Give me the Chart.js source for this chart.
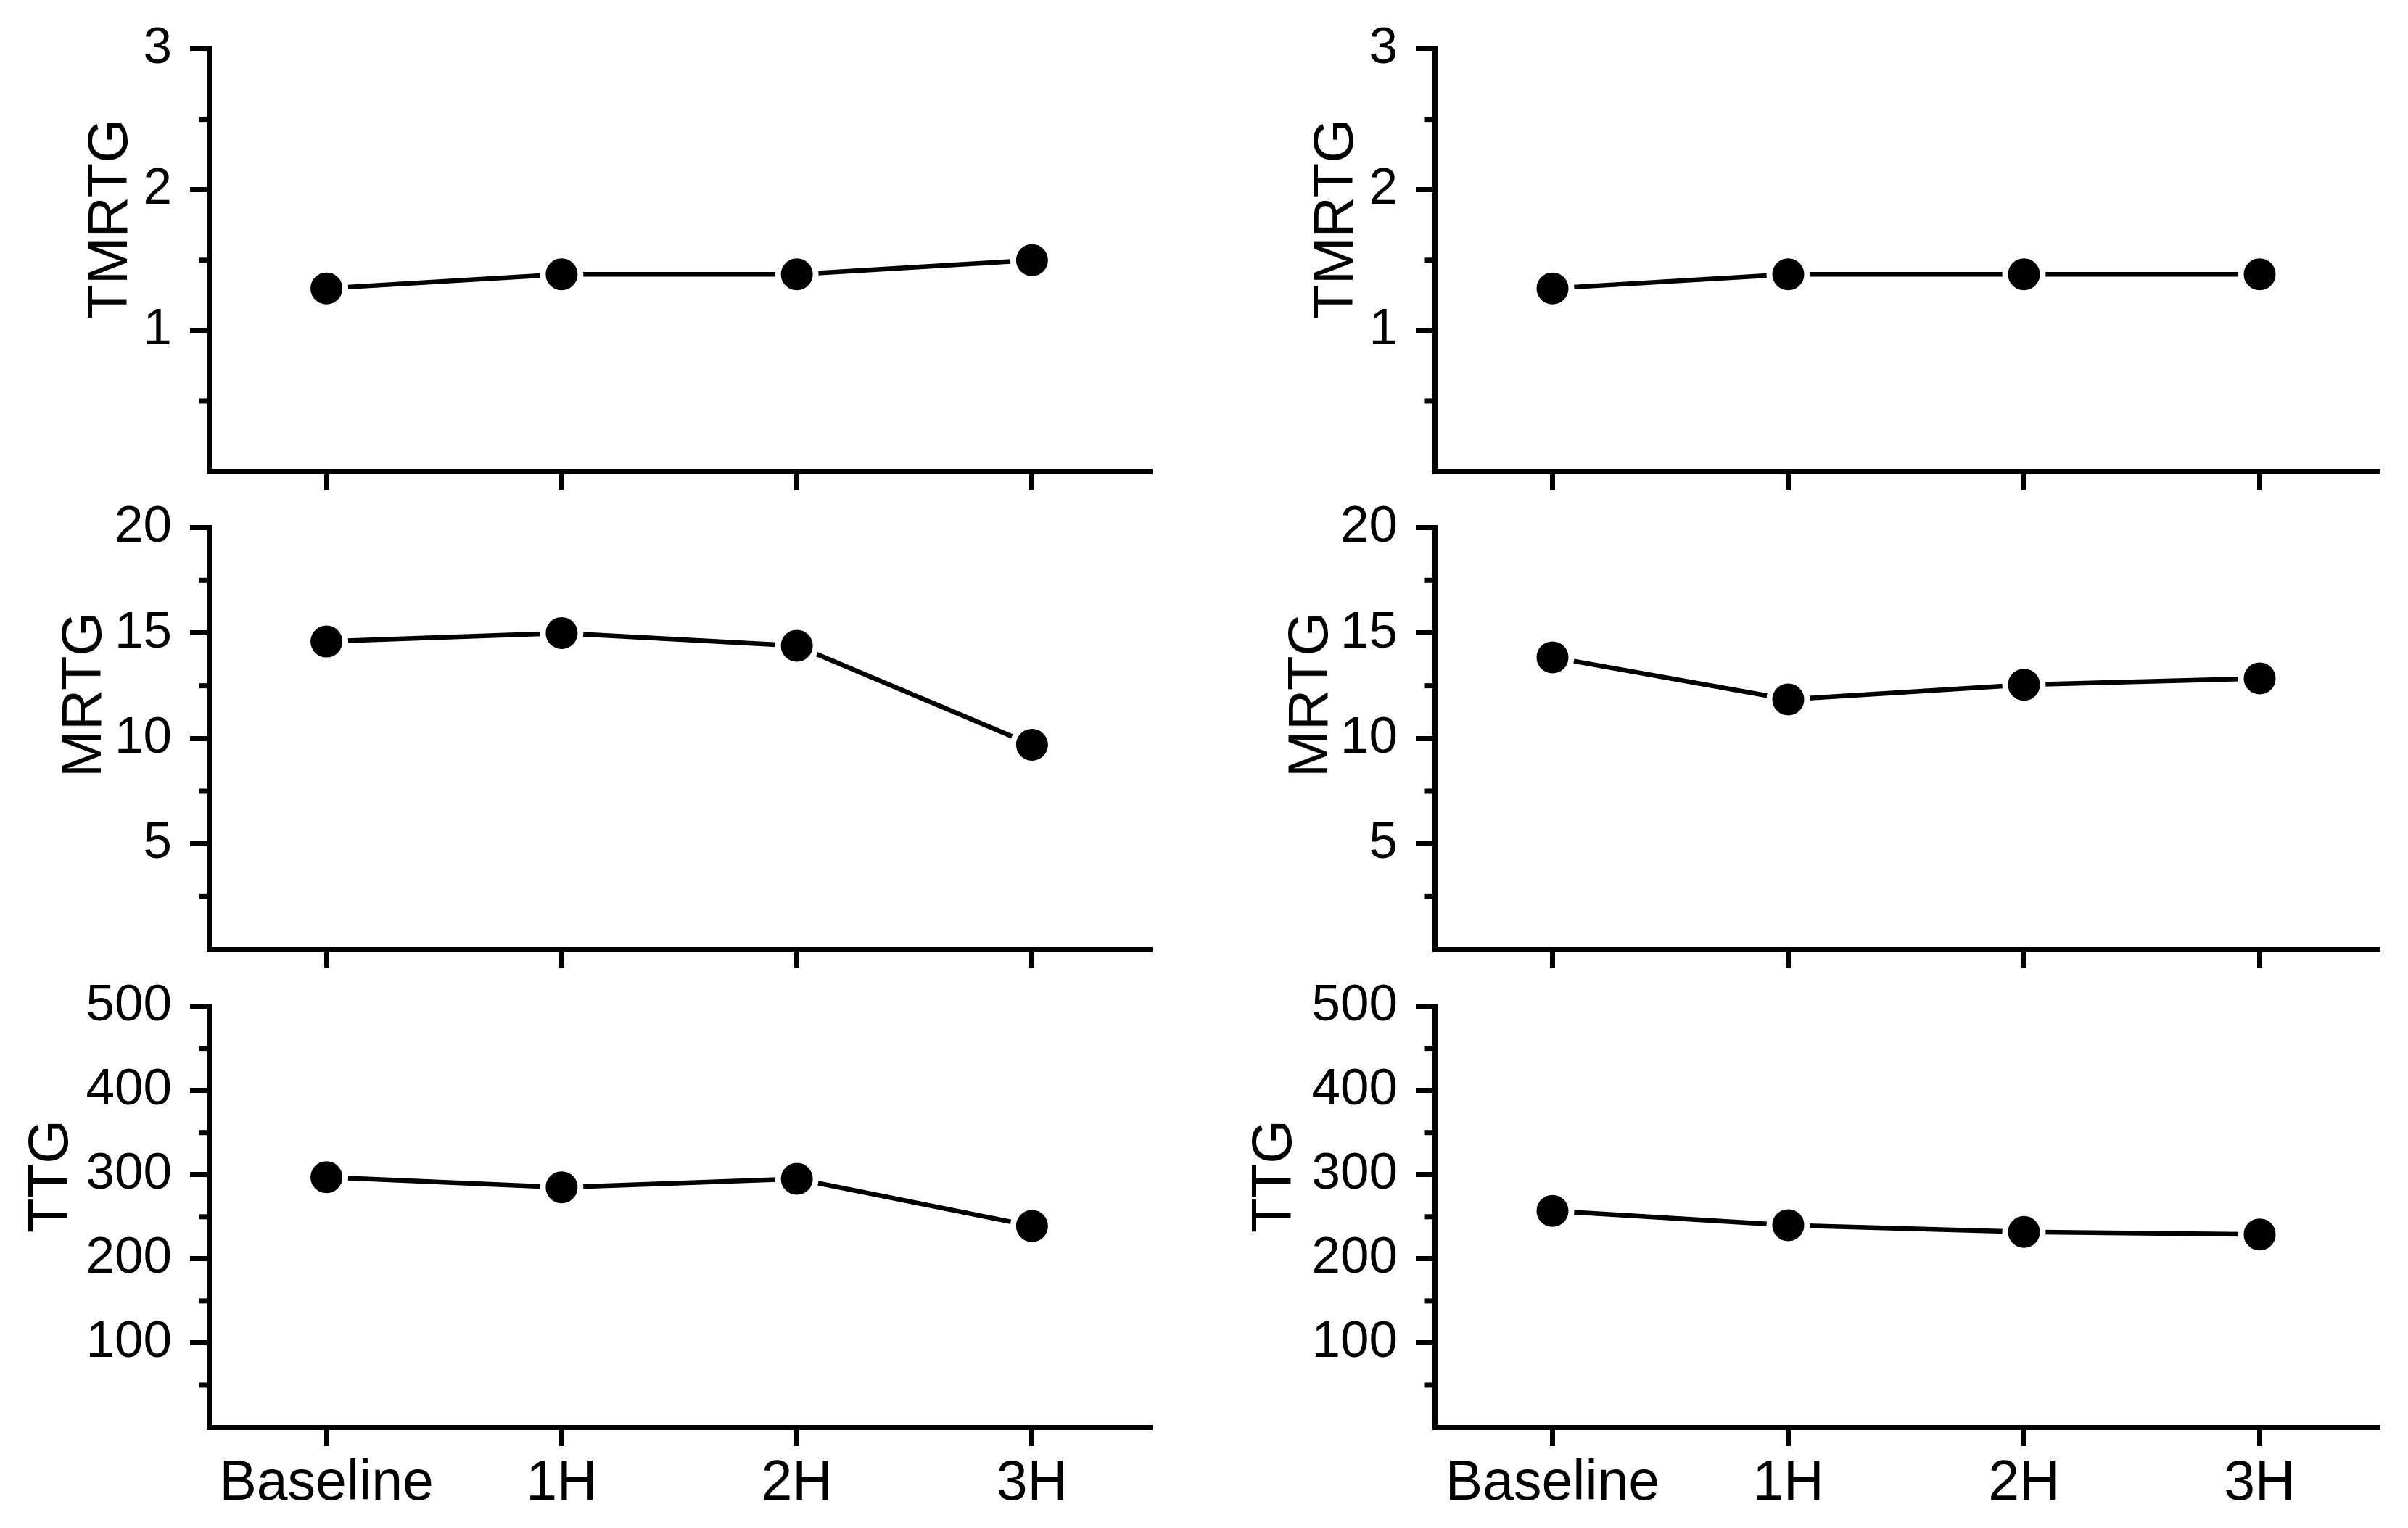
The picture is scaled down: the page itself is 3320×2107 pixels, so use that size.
<!DOCTYPE html>
<html>
<head>
<meta charset="utf-8">
<script src="https://cdn.jsdelivr.net/npm/chart.js@4.4.1/dist/chart.umd.min.js"></script>
<style>
  html, body { margin: 0; padding: 0; background: #fff; }
  #wrap { position: relative; width: 3320px; height: 2107px; overflow: hidden; background: #fff; }
  canvas { position: absolute; }
  .ytitle {
    position: absolute; white-space: nowrap; line-height: 1;
    font-family: "Liberation Sans", Arial, sans-serif; font-size: 78px; color: #000;
    transform: translate(-50%, -50%) rotate(-90deg);
  }
</style>
</head>
<body>
<div id="wrap">
  <canvas id="tmrtgL" width="1660" height="720" style="left:0;top:0"></canvas>
  <canvas id="mrtgL" width="1660" height="720" style="left:0;top:660px"></canvas>
  <canvas id="ttgL" width="1660" height="787" style="left:0;top:1320px"></canvas>
  <canvas id="tmrtgR" width="1660" height="720" style="left:1660px;top:0"></canvas>
  <canvas id="mrtgR" width="1660" height="720" style="left:1660px;top:660px"></canvas>
  <canvas id="ttgR" width="1660" height="787" style="left:1660px;top:1320px"></canvas>

  <div class="ytitle" style="left:148px;top:302px">TMRTG</div>
  <div class="ytitle" style="left:112px;top:958px">MRTG</div>
  <div class="ytitle" style="left:66px;top:1622px">TTG</div>
  <div class="ytitle" style="left:1838px;top:302px">TMRTG</div>
  <div class="ytitle" style="left:1803px;top:958px">MRTG</div>
  <div class="ytitle" style="left:1753px;top:1622px">TTG</div>
</div>
<script>
const timepoints = ["Baseline", "1H", "2H", "3H"];

// left column
const tmrtgLeft = [1.3, 1.4, 1.4, 1.5];
const mrtgLeft = [14.6, 15.0, 14.4, 9.7];
const ttgLeft = [297, 285, 295, 239];

// right column
const tmrtgRight = [1.3, 1.4, 1.4, 1.4];
const mrtgRight = [13.85, 11.85, 12.55, 12.85];
const ttgRight = [257, 240, 232, 229];

const tmrtgAxis = [0, 3, 1];   // min, max, step
const mrtgAxis = [0, 20, 5];
const ttgAxis = [0, 500, 100];

const FONT = "'Liberation Sans', Arial, sans-serif";

// short ticks halfway between the labelled ones
const minorTicks = {
  id: "minorTicks",
  afterDraw(chart) {
    const s = chart.scales.y;
    const ctx = chart.ctx;
    const vals = s.ticks.map(t => t.value);
    ctx.save();
    ctx.strokeStyle = "#000";
    ctx.lineWidth = 7;
    for (let i = 0; i < vals.length - 1; i++) {
      const y = s.getPixelForValue((vals[i] + vals[i + 1]) / 2);
      ctx.beginPath();
      ctx.moveTo(s.right - 13.5, y);
      ctx.lineTo(s.right, y);
      ctx.stroke();
    }
    ctx.restore();
  }
};

function drawPanel(id, values, axis, opts) {
  const ctx = document.getElementById(id);
  new Chart(ctx, {
    type: "line",
    data: {
      labels: timepoints,
      datasets: [{
        data: values,
        borderColor: "#000",
        borderWidth: 6.5,
        borderCapStyle: "round",
        tension: 0,
        fill: false,
        pointRadius: 26,
        pointHoverRadius: 26,
        pointBorderWidth: 8,
        pointBackgroundColor: "#000",
        pointBorderColor: "#fff"
      }]
    },
    options: {
      responsive: false,
      animation: false,
      events: [],
      layout: { padding: { top: opts.top, right: opts.right, left: 0, bottom: 0 } },
      plugins: { legend: { display: false }, tooltip: { enabled: false } },
      scales: {
        x: {
          type: "category",
          offset: true,
          grid: { offset: false, drawOnChartArea: false, drawTicks: true, tickLength: 26, lineWidth: 7, tickWidth: 7, color: "#000" },
          border: { display: true, width: 7, color: "#000" },
          ticks: { display: opts.showX, color: "#000", font: { family: FONT, size: 77 }, padding: 7, maxRotation: 0, autoSkip: false },
          afterFit: s => { s.height = opts.xh; }
        },
        y: {
          min: axis[0],
          max: axis[1],
          grid: {
            drawOnChartArea: false, drawTicks: true, tickLength: 26, lineWidth: 7, tickWidth: 7,
            color: "#000",
            tickColor: c => (c.tick && c.tick.value === 0 ? "rgba(0,0,0,0)" : "#000")
          },
          border: { display: true, width: 7, color: "#000" },
          ticks: {
            stepSize: axis[2],
            color: "#000",
            font: { family: FONT, size: 71 },
            padding: 25,
            callback: v => (v === 0 ? "" : v)
          },
          afterFit: s => { s.width = opts.yw; }
        }
      }
    },
    plugins: [minorTicks]
  });
}

const leftCol = { yw: 288, right: 75 };
const rightCol = { yw: 318, right: 42 };

drawPanel("tmrtgL", tmrtgLeft, tmrtgAxis, { ...leftCol, top: 64, xh: 70, showX: false });
drawPanel("mrtgL", mrtgLeft, mrtgAxis, { ...leftCol, top: 63, xh: 71, showX: false });
drawPanel("ttgL", ttgLeft, ttgAxis, { ...leftCol, top: 61, xh: 139, showX: true });
drawPanel("tmrtgR", tmrtgRight, tmrtgAxis, { ...rightCol, top: 64, xh: 70, showX: false });
drawPanel("mrtgR", mrtgRight, mrtgAxis, { ...rightCol, top: 63, xh: 71, showX: false });
drawPanel("ttgR", ttgRight, ttgAxis, { ...rightCol, top: 61, xh: 139, showX: true });
</script>
</body>
</html>
